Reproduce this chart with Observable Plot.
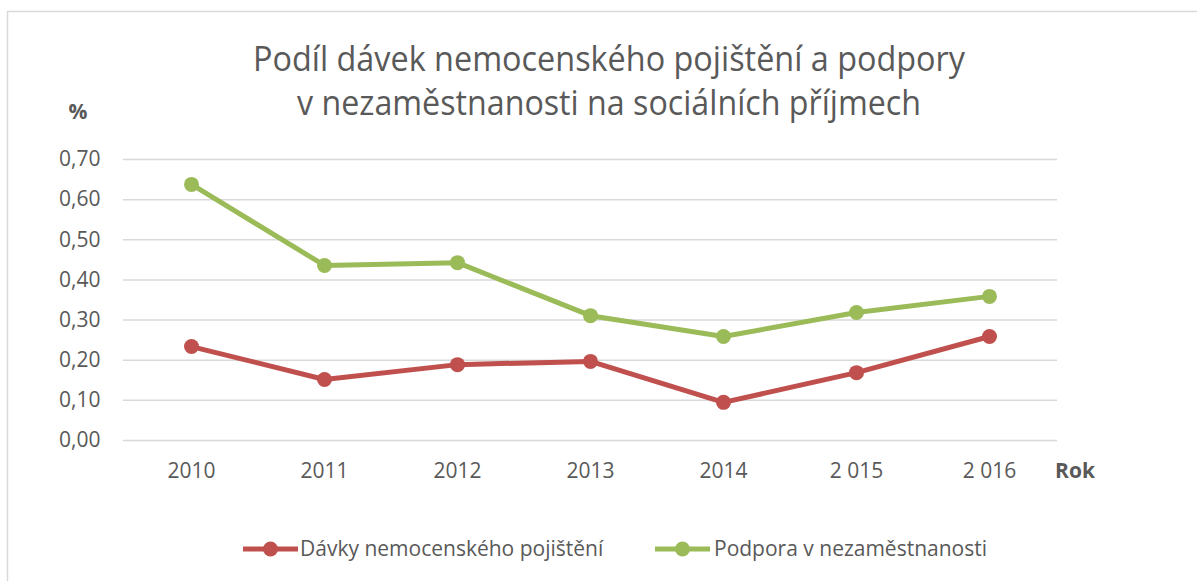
<!DOCTYPE html>
<html><head><meta charset="utf-8">
<script src="https://cdn.jsdelivr.net/npm/d3@7"></script>
<script src="https://cdn.jsdelivr.net/npm/@observablehq/plot@0.6"></script>
<style>
body{margin:0;background:#fff;}
#wrap{position:relative;width:1197px;height:581px;overflow:hidden;font-family:"Open Sans",sans-serif;}
#wrap > svg{position:absolute;left:0;top:0;}
</style></head><body><div id="wrap"></div>
<script>
const years = ["2010","2011","2012","2013","2014","2 015","2 016"];
const nemocenske = [0.234,0.152,0.189,0.197,0.095,0.169,0.259];
const podpora = [0.638,0.436,0.443,0.311,0.259,0.319,0.359];
const seriesNames = ["Dávky nemocenského pojištění","Podpora v nezaměstnanosti"];
const seriesColors = ["#C0504D","#9BBB59"];
const yTicks = [0,0.1,0.2,0.3,0.4,0.5,0.6,0.7];
const titleLines = ["Podíl dávek nemocenského pojištění a podpory","v nezaměstnanosti na sociálních příjmech"];
const yLabel = "%";
const xLabel = "Rok";

const data = [];
years.forEach((y,i)=>{
  data.push({year:y, value:nemocenske[i], series:seriesNames[0]});
});
years.forEach((y,i)=>{
  data.push({year:y, value:podpora[i], series:seriesNames[1]});
});

const W = 1197, H = 581;
const chart = Plot.plot({
  width:W, height:H,
  marginLeft:123, marginRight:140, marginTop:159, marginBottom:141,
  style:{fontFamily:"'Open Sans', sans-serif", fontSize:"21px", color:"#595959", background:"transparent"},
  x:{type:"point", domain:years, padding:0.5, label:null},
  y:{domain:[0,0.7], label:null},
  color:{domain:seriesNames, range:seriesColors},
  marks:[
    Plot.gridY(yTicks,{stroke:"#d9d9d9", strokeOpacity:1, strokeWidth:1.5}),
    Plot.axisY(yTicks,{tickSize:0, tickPadding:23, tickFormat:d=>d.toFixed(2).replace(".",","), label:null}),
    Plot.axisX({tickSize:0, tickPadding:23, label:null}),
    Plot.line(data,{x:"year", y:"value", stroke:"series", z:"series", strokeWidth:5}),
    Plot.dot(data,{x:"year", y:"value", fill:"series", r:7.5})
  ]
});
const wrap = document.getElementById("wrap");
wrap.appendChild(chart);

const svg = d3.select(wrap).append("svg").attr("width",W).attr("height",H)
  .style("pointer-events","none").style("font-family","'Open Sans', sans-serif");
svg.append("rect").attr("x",7.5).attr("y",11.5).attr("width",W+20).attr("height",H+20)
  .attr("fill","none").attr("stroke","#d9d9d9").attr("stroke-width",1.5);

const titleSpec = [{cx:609, y:71, len:712},{cx:609, y:115, len:624}];
titleLines.forEach((t,i)=>{
  svg.append("text").attr("x",titleSpec[i].cx).attr("y",titleSpec[i].y)
    .attr("text-anchor","middle").attr("font-size",35).attr("fill","#595959")
    .attr("textLength",titleSpec[i].len).attr("lengthAdjust","spacingAndGlyphs").text(t);
});
svg.append("text").attr("x",78).attr("y",119).attr("text-anchor","middle")
  .attr("font-size",21).attr("font-weight","bold").attr("fill","#595959").text(yLabel);
svg.append("text").attr("x",1075).attr("y",478).attr("text-anchor","middle")
  .attr("font-size",21).attr("font-weight","bold").attr("fill","#595959").text(xLabel);

const legendSpec = [{x0:243, tx:300},{x0:655, tx:714}];
seriesNames.forEach((s,i)=>{
  const g = svg.append("g");
  g.append("line").attr("x1",legendSpec[i].x0).attr("x2",legendSpec[i].x0+55)
    .attr("y1",549).attr("y2",549).attr("stroke",seriesColors[i]).attr("stroke-width",5);
  g.append("circle").attr("cx",legendSpec[i].x0+27.5).attr("cy",549).attr("r",7.5).attr("fill",seriesColors[i]);
  g.append("text").attr("x",legendSpec[i].tx).attr("y",556).attr("font-size",21)
    .attr("fill","#595959").text(s);
});
</script>
</body></html>
